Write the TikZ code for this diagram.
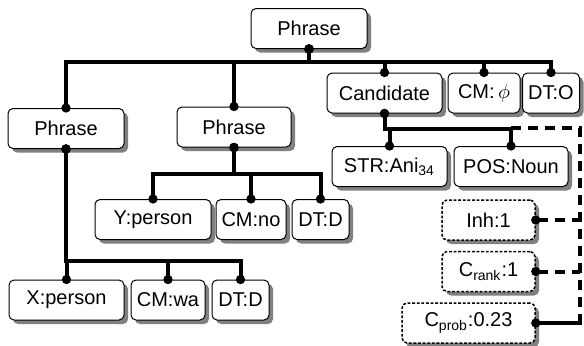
\documentclass[tikz,border=0pt]{standalone}
\usepackage{fontspec}
\setmainfont{Liberation Sans}
\usepackage{tikz}
\usetikzlibrary{arrows.meta,shadows}

\begin{document}
\begin{tikzpicture}[x=0.5pt,y=-0.5pt,
  box/.style={draw,line width=0.5pt,rounded corners=2.5pt,fill=white,
    minimum height=20pt,inner sep=1pt,font=\fontsize{10}{12}\selectfont,
    drop shadow={shadow xshift=2pt,shadow yshift=-2pt,fill=black!50,opacity=1}},
  dbox/.style={box,dash pattern=on 1.4pt off 0.9pt,line width=0.75pt},
  branch/.style={line width=2pt,{Circle[length=4.5pt]}-{Circle[length=4.5pt]},
    shorten <=-2.25pt,shorten >=-2.25pt},
  dashlink/.style={line width=2pt,dash pattern=on 5pt off 3.5pt}]
\useasboundingbox (0,0) rectangle (584,345);

\node[box, minimum width=58pt]   (top)    at (309,28.5)  {Phrase};
\node[box, minimum width=58pt]   (lphr)   at (66,128.5)  {Phrase};
\node[box, minimum width=57pt]   (mphr)   at (234,127)   {Phrase};
\node[box, minimum width=57.5pt] (cand)   at (384.5,93)  {Candidate};
\node[box, minimum width=36pt]   (cmphi)  at (484,93)    {CM:\,$\phi$};
\node[box, minimum width=28.5pt] (dto)    at (551,93)    {DT:O};
\node[box, minimum width=57.5pt] (str)    at (389.5,166.5) {STR:Ani\textsubscript{34}};
\node[box, minimum width=57pt]   (pos)    at (511,166.5) {POS:Noun};
\node[box, minimum width=58pt]   (yper)   at (153,219.5) {Y:person};
\node[box, minimum width=35pt]   (cmno)   at (251,219.5) {CM:no};
\node[box, minimum width=28.5pt] (dtdm)   at (320.5,219.5) {DT:D};
\node[box, minimum width=57.5pt] (xper)   at (66.5,300)  {X:person};
\node[box, minimum width=37pt]   (cmwa)   at (168,300)   {CM:wa};
\node[box, minimum width=28.5pt] (dtdb)   at (240.5,300) {DT:D};
\node[dbox, minimum width=46.5pt] (inh)   at (488.5,220) {Inh:1};
\node[dbox, minimum width=46.5pt] (crank) at (488.5,271.5) {C\textsubscript{rank}:1};
\node[dbox, minimum width=66.5pt] (cprob) at (468.5,323) {C\textsubscript{prob}:0.23};

% top phrase
\foreach \child in {lphr,mphr,cand,cmphi,dto}
  \draw[branch] (top.south) -- ++(0,13) -| (\child.north);
% middle phrase
\foreach \child in {yper,cmno,dtdm}
  \draw[branch] (mphr.south) -- ++(0,26) -| (\child.north);
% left phrase
\foreach \child in {xper,cmwa,dtdb}
  \draw[branch] (lphr.south) -- ++(0,112) -| (\child.north);
% candidate
\foreach \child in {str,pos}
  \draw[branch] (cand.south) -- ++(0,15) -| (\child.north);

% dashed attributes
\coordinate (cbus) at (511,128);
\coordinate (dcorner) at (580,128);
\draw[dashlink] (cbus) -- (dcorner) |- (cprob.east);
\foreach \att in {inh,crank,cprob}
  \draw[dashlink,{Circle[length=4.5pt]}-,shorten <=-2.25pt] (\att.east) -- (\att.east -| dcorner);
\end{tikzpicture}
\end{document}
